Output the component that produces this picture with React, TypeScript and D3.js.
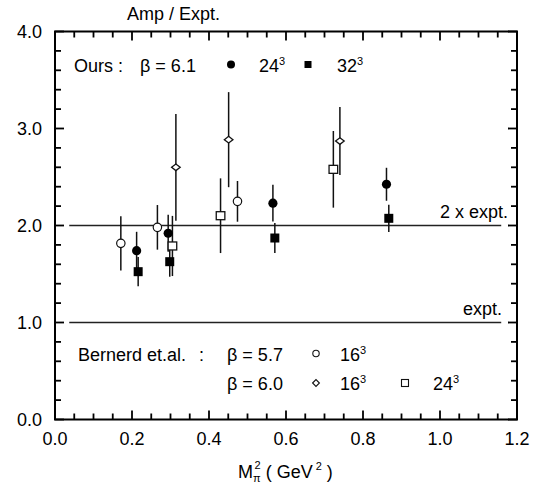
import React from "react";
import * as d3 from "d3";

const W = 546;
const H = 487;

// x (Mπ² GeV²), y (Amp/Expt), err
const oursB61_24 = [
  { x: 0.212, y: 1.74, e: 0.195 },
  { x: 0.294, y: 1.92, e: 0.19 },
  { x: 0.566, y: 2.23, e: 0.19 },
  { x: 0.861, y: 2.425, e: 0.17 },
];
const oursB61_32 = [
  { x: 0.216, y: 1.524, e: 0.15 },
  { x: 0.298, y: 1.627, e: 0.155 },
  { x: 0.571, y: 1.871, e: 0.155 },
  { x: 0.867, y: 2.074, e: 0.14 },
];
const bernardB57_16 = [
  { x: 0.171, y: 1.816, e: 0.28 },
  { x: 0.266, y: 1.981, e: 0.23 },
  { x: 0.474, y: 2.249, e: 0.21 },
];
const bernardB60_16 = [
  { x: 0.314, y: 2.6, e: 0.55 },
  { x: 0.451, y: 2.885, e: 0.49 },
  { x: 0.74, y: 2.871, e: 0.35 },
];
const bernardB60_24 = [
  { x: 0.305, y: 1.789, e: 0.31 },
  { x: 0.43, y: 2.101, e: 0.385 },
  { x: 0.723, y: 2.579, e: 0.395 },
];

const xTicks = [0, 0.2, 0.4, 0.6, 0.8, 1.0, 1.2];
const yTicks = [0, 1, 2, 3, 4];
const refLines = [
  { y: 2.0, label: "2 x expt." },
  { y: 1.0, label: "expt." },
];

const FONT = "'Liberation Sans', Arial, Helvetica, sans-serif";

export default function App() {
  const x = d3.scaleLinear().domain([0, 1.2]).range([55, 517]);
  const y = d3.scaleLinear().domain([0, 4]).range([419.5, 31.5]);
  const [x0, x1] = x.range();
  const [y0, y1] = y.range();

  const xMinor = d3.range(0, 1.2001, 0.05);
  const yMinor = d3.range(0, 4.0001, 0.2);
  const isMajorX = (v: number) => Math.abs(v / 0.2 - Math.round(v / 0.2)) < 1e-6;
  const isMajorY = (v: number) => Math.abs(v - Math.round(v)) < 1e-6;

  const errBars = (data: { x: number; y: number; e: number }[], key: string) =>
    data.map((d, i) => (
      <line
        key={key + i}
        x1={x(d.x)}
        x2={x(d.x)}
        y1={y(d.y - d.e)}
        y2={y(d.y + d.e)}
        stroke="#111"
        strokeWidth={1.5}
      />
    ));

  const diamond = (cx: number, cy: number, hw: number, hh: number) =>
    `M${cx - hw},${cy} L${cx},${cy - hh} L${cx + hw},${cy} L${cx},${cy + hh} Z`;

  const fs = 18;
  const sup = 11;

  return (
    <svg
      width={W}
      height={H}
      style={{ position: "absolute", left: 0, top: 0, background: "#fff" }}
      fontFamily={FONT}
    >
      <rect x={0} y={0} width={W} height={H} fill="#fff" />
      {/* reference lines */}
      {refLines.map((r) => (
        <g key={r.label}>
          <line x1={x(0.037)} x2={x(1.159)} y1={y(r.y)} y2={y(r.y)} stroke="#222" strokeWidth={1.4} />
          <text x={r.label === "expt." ? 502 : 508} y={y(r.y) - 8} textAnchor="end" fontSize={fs}>
            {r.label}
          </text>
        </g>
      ))}

      {/* error bars */}
      {errBars(bernardB57_16, "a")}
      {errBars(bernardB60_16, "b")}
      {errBars(bernardB60_24, "c")}
      {errBars(oursB61_24, "d")}
      {errBars(oursB61_32, "e")}

      {/* markers */}
      {bernardB57_16.map((d, i) => (
        <circle key={"oc" + i} cx={x(d.x)} cy={y(d.y)} r={4.2} fill="#fff" stroke="#111" strokeWidth={1.2} />
      ))}
      {bernardB60_16.map((d, i) => (
        <path key={"dm" + i} d={diamond(x(d.x), y(d.y), 4.3, 3.3)} fill="#fff" stroke="#111" strokeWidth={1.3} />
      ))}
      {bernardB60_24.map((d, i) => (
        <rect key={"os" + i} x={x(d.x) - 4.3} y={y(d.y) - 4} width={8.6} height={8} fill="#fff" stroke="#111" strokeWidth={1.3} />
      ))}
      {oursB61_24.map((d, i) => (
        <circle key={"fc" + i} cx={x(d.x)} cy={y(d.y)} r={4.6} fill="#000" />
      ))}
      {oursB61_32.map((d, i) => (
        <rect key={"fs" + i} x={x(d.x) - 4.5} y={y(d.y) - 4.5} width={9} height={9} fill="#000" />
      ))}

      {/* frame */}
      <rect x={x0} y={y1} width={x1 - x0} height={y0 - y1} fill="none" stroke="#000" strokeWidth={2} />

      {/* ticks */}
      {xMinor.map((v, i) => {
        const len = isMajorX(v) ? 9 : 6;
        return (
          <g key={"xt" + i}>
            <line x1={x(v)} x2={x(v)} y1={y0} y2={y0 - len} stroke="#000" strokeWidth={1.8} />
            <line x1={x(v)} x2={x(v)} y1={y1} y2={y1 + len} stroke="#000" strokeWidth={1.8} />
          </g>
        );
      })}
      {yMinor.map((v, i) => {
        const len = isMajorY(v) ? 9 : 6;
        return (
          <g key={"yt" + i}>
            <line x1={x0} x2={x0 + len} y1={y(v)} y2={y(v)} stroke="#000" strokeWidth={1.8} />
            <line x1={x1} x2={x1 - len} y1={y(v)} y2={y(v)} stroke="#000" strokeWidth={1.8} />
          </g>
        );
      })}

      {/* tick labels */}
      {xTicks.map((v) => (
        <text key={"xl" + v} x={x(v)} y={445} textAnchor="middle" fontSize={fs}>
          {v.toFixed(1)}
        </text>
      ))}
      {yTicks.map((v) => (
        <text key={"yl" + v} x={42} y={y(v) + 6.5} textAnchor="end" fontSize={fs}>
          {v.toFixed(1)}
        </text>
      ))}

      {/* axis titles */}
      <text x={127} y={20} fontSize={fs}>
        Amp / Expt.
      </text>
      <text x={238} y={478} fontSize={fs}>
        M
        <tspan fontSize={sup} dy={4}>π</tspan>
        <tspan fontSize={sup} dx={-6} dy={-13}>2</tspan>
        <tspan dy={9}> ( GeV</tspan>
        <tspan fontSize={sup} dx={3} dy={-8}>2</tspan>
        <tspan dy={8}> )</tspan>
      </text>

      {/* top legend */}
      <text x={74} y={71.5} fontSize={fs}>Ours :</text>
      <text x={140} y={71.5} fontSize={fs}>β = 6.1</text>
      <circle cx={231} cy={64.5} r={4} fill="#000" />
      <text x={259} y={71.5} fontSize={fs}>24<tspan fontSize={sup} dy={-7}>3</tspan></text>
      <rect x={304.5} y={61} width={7} height={7} fill="#000" />
      <text x={337} y={71.5} fontSize={fs}>32<tspan fontSize={sup} dy={-7}>3</tspan></text>

      {/* bottom legend */}
      <text x={78} y={361} fontSize={fs}>Bernerd et.al.</text>
      <text x={199} y={361} fontSize={fs}>:</text>
      <text x={227} y={361} fontSize={fs}>β = 5.7</text>
      <circle cx={316} cy={353.5} r={3.2} fill="#fff" stroke="#111" strokeWidth={1.1} />
      <text x={340} y={361} fontSize={fs}>16<tspan fontSize={sup} dy={-7}>3</tspan></text>

      <text x={227} y={390} fontSize={fs}>β = 6.0</text>
      <path d={diamond(316, 383, 3.4, 3.4)} fill="#fff" stroke="#111" strokeWidth={1.1} />
      <text x={340} y={390} fontSize={fs}>16<tspan fontSize={sup} dy={-7}>3</tspan></text>
      <rect x={401.5} y={379.5} width={7} height={7} fill="#fff" stroke="#111" strokeWidth={1.1} />
      <text x={433} y={390} fontSize={fs}>24<tspan fontSize={sup} dy={-7}>3</tspan></text>
    </svg>
  );
}
